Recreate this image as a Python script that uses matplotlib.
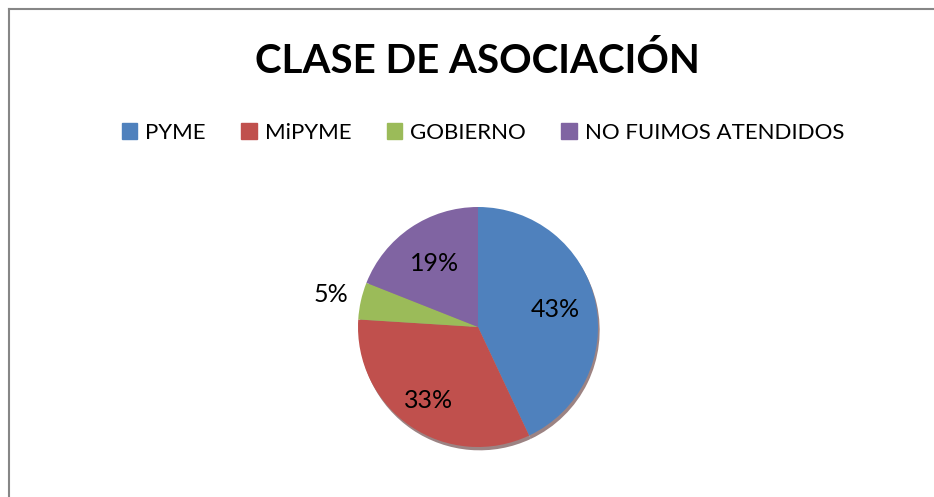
import numpy as np
import matplotlib.pyplot as plt
from matplotlib.patches import Shadow

plt.rcParams['font.family'] = ['Lato', 'DejaVu Sans']

title = 'CLASE DE ASOCIACIÓN'
categories = ['PYME', 'MiPYME', 'GOBIERNO', 'NO FUIMOS ATENDIDOS']
shares = [43, 33, 5, 19]
colors = ['#4F81BD', '#C0504D', '#9BBB59', '#8064A2']
label_radius = [0.66, 0.74, 1.26, 0.64]

W, H = 934, 497
fig = plt.figure(figsize=(W / 100, H / 100), dpi=100)

# chart frame (only left and top edges visible)
fig.add_artist(plt.Line2D([9 / W, 9 / W], [0, 1 - 9 / H], color='#868686', lw=1.5))
fig.add_artist(plt.Line2D([9 / W, 1], [1 - 9 / H, 1 - 9 / H], color='#868686', lw=1.5))

fig.text(477 / W, 1 - 61 / H, title, ha='center', va='center',
         fontsize=29, fontweight='bold')

# pie axes placed by pixel centre/radius
cx, cy, r = 478, 327, 120
ax = fig.add_axes([(cx - r) / W, 1 - (cy + r) / H, 2 * r / W, 2 * r / H])
wedges, _ = ax.pie(shares, colors=colors, startangle=90, counterclock=False,
                   radius=1, wedgeprops=dict(linewidth=0))
for w in wedges:
    sh = Shadow(w, 0.01, -0.02, alpha=0.6)
    sh.set_facecolor('#5a3030')
    sh.set_zorder(w.get_zorder() - 1)
    ax.add_patch(sh)

for w, v, rr in zip(wedges, shares, label_radius):
    ang = np.deg2rad((w.theta1 + w.theta2) / 2)
    ax.text(rr * np.cos(ang), rr * np.sin(ang), f'{v}%', ha='center',
            va='center', fontsize=18)
ax.set_xlim(-1, 1)
ax.set_ylim(-1, 1)
ax.set_aspect('auto')
ax.axis('off')

handles = [plt.Rectangle((0, 0), 1, 1, color=c) for c in colors]
fig.legend(handles, categories, loc='center', bbox_to_anchor=(483 / W, 1 - 133 / H),
           ncol=4, frameon=False, fontsize=16, handlelength=0.7, handleheight=0.7,
           handletextpad=0.35, columnspacing=1.6)

fig.savefig('out.png', dpi=100, facecolor='white')
